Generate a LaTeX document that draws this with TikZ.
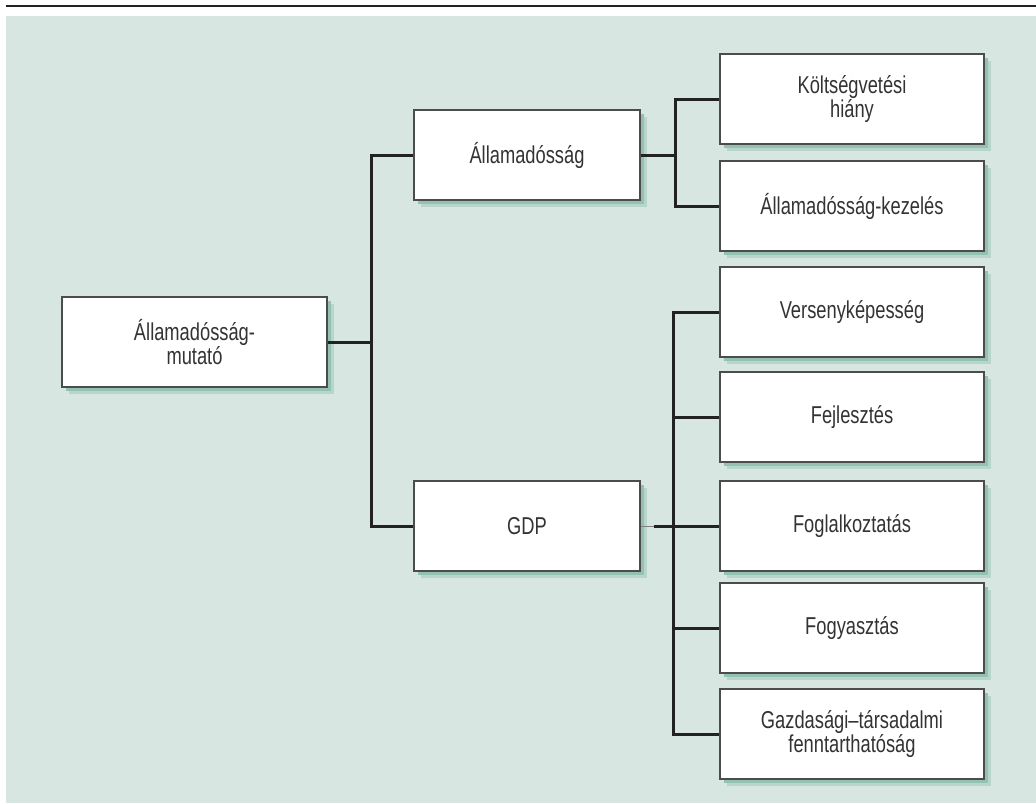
\documentclass[tikz,border=0pt]{standalone}
\usepackage{fontspec}
\setmainfont{Liberation Sans}[FakeStretch=0.75]
\usetikzlibrary{shadows}
\definecolor{panel}{HTML}{D7E6E0}
\definecolor{shade}{HTML}{93C2B2}
\definecolor{ink}{HTML}{222222}

\begin{document}
\begin{tikzpicture}[x=0.5pt,y=-0.5pt,
  font=\fontsize{12.2}{11.8}\selectfont,
  box/.style={draw=black!70,line width=0.6pt,fill=white,text=black!80,
              minimum width=132pt,minimum height=45pt,align=center,inner sep=2pt,
              drop shadow={shadow xshift=3.5pt,shadow yshift=-3.5pt,fill=shade,opacity=.45},
              drop shadow={shadow xshift=2.2pt,shadow yshift=-2.2pt,fill=shade,opacity=1}},
  midbox/.style={box,minimum width=113pt},
  conn/.style={draw=ink,line width=1.5pt}
]
  \useasboundingbox (0,0) rectangle (1036,803);
  \fill[panel] (6,16) rectangle (1036,803);
  \draw[ink,line width=1pt] (6,6) -- (1036,6);

  \node[box,minimum width=132.5pt] (root) at (194.5,342) {Államadósság-\\mutató};
  \node[midbox] (adossag) at (527,155) {Államadósság};
  \node[midbox] (gdp) at (527,526) {GDP};

  \node[box] (hiany) at (852,99) {Költségvetési\\hiány};
  \node[box] (kezeles) at (852,206) {Államadósság-kezelés};
  \node[box] (verseny) at (852,312) {Versenyképesség};
  \node[box] (fejl) at (852,417) {Fejlesztés};
  \node[box] (fogl) at (852,526) {Foglalkoztatás};
  \node[box] (fogy) at (852,628) {Fogyasztás};
  \node[box] (fennt) at (852,734) {Gazdasági–társadalmi\\fenntarthatóság};

  \coordinate (t1) at (371,342);
  \coordinate (t2) at (675,155);
  \coordinate (t3) at (673,526);
  \coordinate (gstub) at (654,526);

  \draw[conn] (root.east) -- (t1);
  \draw[conn] (adossag.west) -| (t1) |- (gdp.west);

  \draw[conn] (adossag.east) -- (t2);
  \draw[conn] (hiany.west) -| (t2) |- (kezeles.west);

  \draw[gray,line width=0.4pt] (gdp.east) -- (gstub);
  \draw[conn] (gstub) -- (t3);
  \draw[conn] (verseny.west) -| (t3) |- (fennt.west);
  \foreach \n in {fejl,fogl,fogy}
    \draw[conn] (\n.west) -- (\n.west -| t3);
\end{tikzpicture}
\end{document}
